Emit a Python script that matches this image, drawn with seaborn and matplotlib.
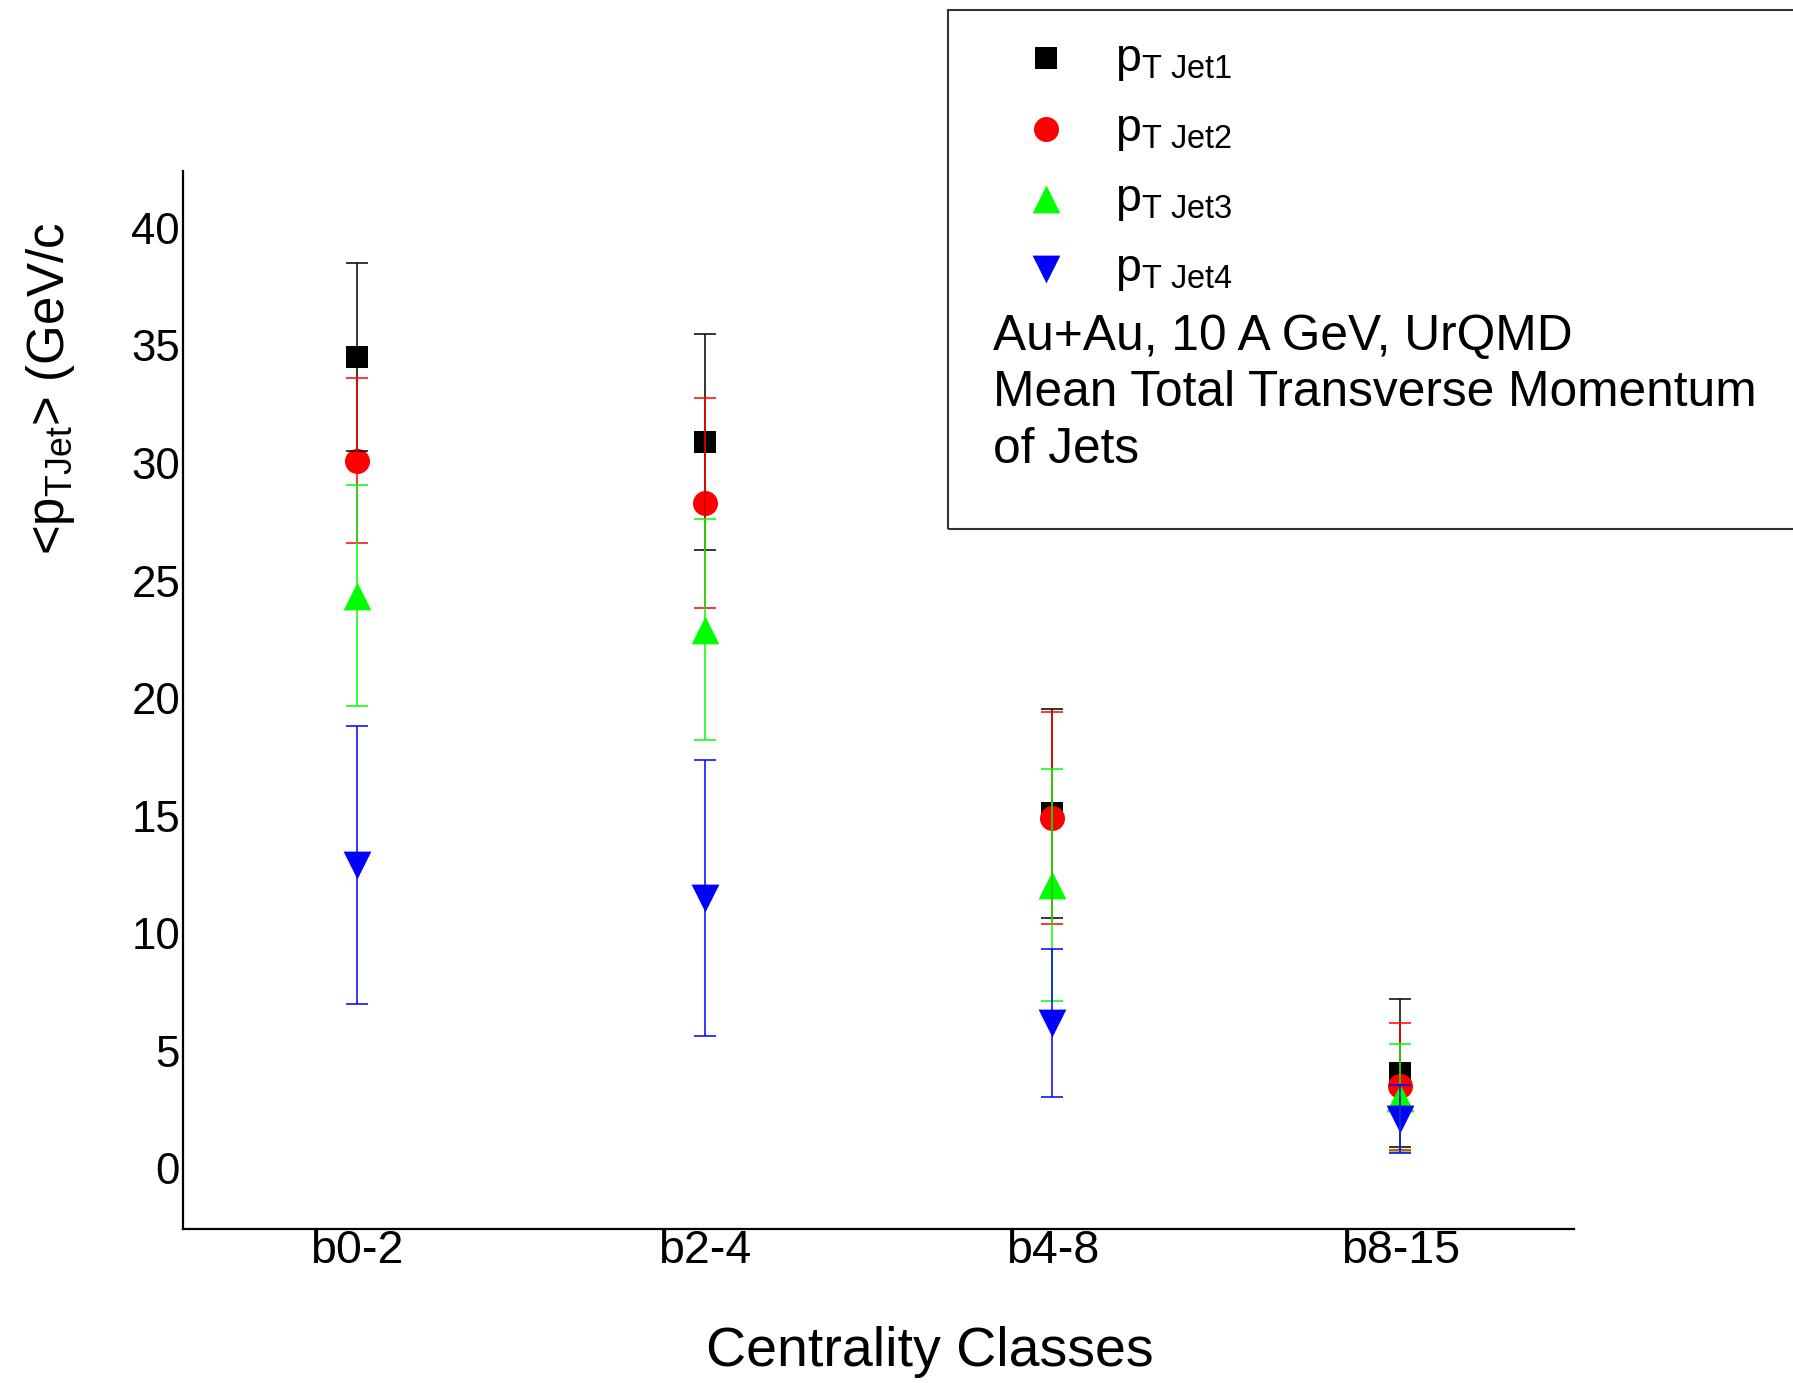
import numpy as np
import pandas as pd
import matplotlib
matplotlib.use("Agg")
import matplotlib.pyplot as plt
import seaborn as sns
from matplotlib.patches import Rectangle

# Centrality classes (impact-parameter bins, fm)
categories = ["b0-2", "b2-4", "b4-8", "b8-15"]

# Mean transverse momentum of the leading four jets and their spreads (GeV/c)
jet1_mean = [34.5, 30.9, 15.1, 4.05]
jet1_err = [4.0, 4.6, 4.45, 3.15]
jet2_mean = [30.1, 28.3, 14.9, 3.5]
jet2_err = [3.5, 4.45, 4.5, 2.7]
jet3_mean = [24.35, 22.9, 12.05, 2.98]
jet3_err = [4.7, 4.7, 4.95, 2.3]
jet4_mean = [12.9, 11.5, 6.2, 2.1]
jet4_err = [5.9, 5.85, 3.15, 1.45]

jet_names = ["Jet1", "Jet2", "Jet3", "Jet4"]
legend_labels = [r"p$_{\mathrm{T\ Jet1}}$", r"p$_{\mathrm{T\ Jet2}}$",
                 r"p$_{\mathrm{T\ Jet3}}$", r"p$_{\mathrm{T\ Jet4}}$"]
info_lines = ["Au+Au, 10 A GeV, UrQMD",
              "Mean Total Transverse Momentum",
              "of Jets"]

means = [jet1_mean, jet2_mean, jet3_mean, jet4_mean]
errs = [jet1_err, jet2_err, jet3_err, jet4_err]

rows = []
for name, m, e in zip(jet_names, means, errs):
    for i, c in enumerate(categories):
        rows.append({"jet": name, "centrality": c, "pos": i, "mean": m[i], "err": e[i]})
df = pd.DataFrame(rows)

colors = {"Jet1": "#000000", "Jet2": "#ff0000", "Jet3": "#00ff00", "Jet4": "#0000ff"}
markers = {"Jet1": "s", "Jet2": "o", "Jet3": "^", "Jet4": "v"}
msizes = {"Jet1": 15.5, "Jet2": 18, "Jet3": 20, "Jet4": 20}

sns.set_theme(style="white")
plt.rcParams["font.family"] = ["Liberation Sans", "DejaVu Sans"]
plt.rcParams["mathtext.fontset"] = "custom"
plt.rcParams["mathtext.rm"] = "Liberation Sans"
plt.rcParams["mathtext.it"] = "Liberation Sans"
plt.rcParams["text.color"] = "black"
plt.rcParams["axes.labelcolor"] = "black"

fig = plt.figure(figsize=(17.93, 13.83), dpi=100)
ax = fig.add_axes([0.102, 0.111, 0.776, 0.765])

for name, lab in zip(jet_names, legend_labels):
    sub = df[df["jet"] == name]
    sns.scatterplot(data=sub, x="pos", y="mean", ax=ax, marker=markers[name],
                    color=colors[name], s=msizes[name] ** 2, linewidth=0,
                    label=lab, zorder=2)

for name in jet_names:
    sub = df[df["jet"] == name]
    ax.errorbar(sub["pos"], sub["mean"], yerr=sub["err"], fmt="none",
                ecolor=colors[name], elinewidth=1.1, capsize=8, capthick=1.1,
                zorder=3)

ax.set_xlim(-0.5, 3.5)
ax.set_ylim(-2.6, 42.4)
ax.set_xticks(range(len(categories)))
ax.set_xticklabels(categories)
ax.set_yticks(np.arange(0, 41, 5))
ax.tick_params(axis="both", length=0, colors="black")
ax.tick_params(axis="x", pad=-0.5, labelsize=33.5)
ax.tick_params(axis="y", pad=2, labelsize=31.5)

for side in ["top", "right"]:
    ax.spines[side].set_visible(False)
for side in ["left", "bottom"]:
    ax.spines[side].set_color("black")
    ax.spines[side].set_linewidth(1.6)

ax.set_xlabel("Centrality Classes", fontsize=40)
ax.xaxis.label.set_va("center")
ax.xaxis.set_label_coords(0.537, -0.1155)
ax.set_ylabel(r"<p$_{\mathrm{TJet}}$> (GeV/c", fontsize=36.7)
ax.yaxis.label.set_va("center")
ax.yaxis.set_label_coords(-0.095, 0.795)

# Framed key region in the upper right
fig.patches.append(Rectangle((0.5287, 0.6175), 0.6, 0.3753, transform=fig.transFigure,
                             fill=False, edgecolor="#333333", linewidth=1.5))

handles, labels = ax.get_legend_handles_labels()
ax.legend(handles, labels, loc="upper left", bbox_to_anchor=(0.5705, 0.9735),
          bbox_transform=fig.transFigure, frameon=False, fontsize=33.5,
          handlelength=1.0, handletextpad=0.98, labelspacing=0.52, borderpad=0,
          borderaxespad=0)

for k, line in enumerate(info_lines):
    fig.text(0.5538, [0.7560, 0.7155, 0.6743][k], line, fontsize=35.7, va="center",
             ha="left", color="black")

fig.savefig("out.png", dpi=100)
